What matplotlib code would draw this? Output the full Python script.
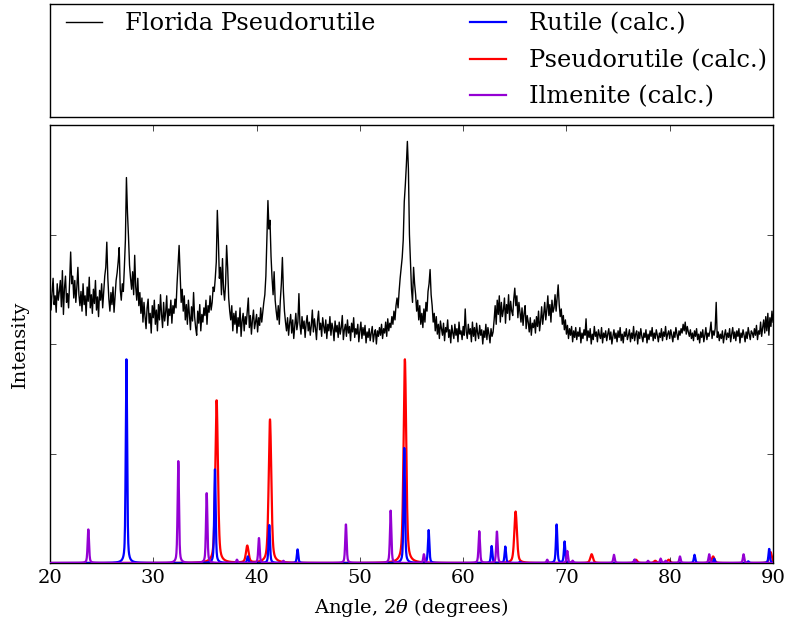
import numpy as np
import matplotlib
matplotlib.use("Agg")
import matplotlib.pyplot as plt
from matplotlib.lines import Line2D

plt.style.use("classic")
plt.rcParams["font.family"] = ["DejaVu Serif"]
plt.rcParams["mathtext.fontset"] = "dejavuserif"

# ---------------- data ----------------
# measured pattern, one value every 0.1 degree from 20.0 to 90.0 (one row per degree)
exp_start, exp_step = 20.0, 0.1
exp_intensity = [
    2.52, 2.31, 2.47, 2.60, 2.36, 2.44, 2.29, 2.55, 2.40, 2.48,
    2.58, 2.34, 2.67, 2.27, 2.51, 2.62, 2.38, 2.46, 2.33, 2.57,
    2.84, 2.55, 2.62, 2.42, 2.58, 2.38, 2.52, 2.70, 2.45, 2.35,
    2.48, 2.30, 2.55, 2.36, 2.44, 2.26, 2.52, 2.39, 2.61, 2.33,
    2.45, 2.28, 2.50, 2.37, 2.58, 2.31, 2.43, 2.25, 2.49, 2.40,
    2.55, 2.33, 2.48, 2.62, 2.70, 2.93, 2.60, 2.41, 2.30, 2.47,
    2.36, 2.52, 2.29, 2.43, 2.58, 2.65, 2.75, 2.88, 2.50, 2.40,
    2.55, 2.48, 2.70, 2.95, 3.52, 3.20, 2.98, 2.72, 2.60, 2.50,
    2.66, 2.45, 2.81, 2.52, 2.40, 2.60, 2.35, 2.47, 2.28, 2.42,
    2.20, 2.38, 2.25, 2.14, 2.33, 2.41, 2.19, 2.28, 2.10, 2.35,
    2.24, 2.40, 2.18, 2.31, 2.12, 2.36, 2.22, 2.45, 2.27, 2.15,
    2.38, 2.21, 2.29, 2.44, 2.17, 2.32, 2.26, 2.40, 2.19, 2.35,
    2.28, 2.41, 2.33, 2.55, 2.72, 2.90, 2.65, 2.38, 2.50, 2.30,
    2.44, 2.22, 2.36, 2.18, 2.40, 2.27, 2.13, 2.34, 2.21, 2.47,
    2.25, 2.15, 2.08, 2.30, 2.19, 2.36, 2.12, 2.27, 2.20, 2.33,
    2.26, 2.40, 2.18, 2.35, 2.29, 2.44, 2.31, 2.38, 2.52, 2.48,
    2.60, 2.75, 3.22, 2.95, 2.60, 2.70, 2.45, 2.78, 2.50, 2.40,
    2.55, 2.90, 2.70, 2.42, 2.30, 2.22, 2.35, 2.12, 2.28, 2.18,
    2.30, 2.10, 2.24, 2.16, 2.33, 2.07, 2.21, 2.28, 2.12, 2.25,
    2.18, 2.30, 2.42, 2.15, 2.26, 2.09, 2.22, 2.31, 2.14, 2.20,
    2.27, 2.11, 2.24, 2.17, 2.33, 2.20, 2.29, 2.38, 2.45, 2.62,
    2.95, 3.31, 3.05, 3.13, 2.80, 2.60, 2.45, 2.66, 2.40, 2.30,
    2.22, 2.35, 2.18, 2.40, 2.55, 2.79, 2.48, 2.30, 2.20, 2.12,
    2.24, 2.08, 2.19, 2.27, 2.10, 2.22, 2.05, 2.17, 2.28, 2.13,
    2.20, 2.46, 2.18, 2.09, 2.25, 2.14, 2.21, 2.06, 2.19, 2.26,
    2.12, 2.20, 2.08, 2.17, 2.31, 2.11, 2.23, 2.15, 2.04, 2.21,
    2.30, 2.13, 2.19, 2.07, 2.24, 2.16, 2.10, 2.22, 2.05, 2.18,
    2.12, 2.25, 2.08, 2.19, 2.14, 2.03, 2.21, 2.11, 2.17, 2.06,
    2.20, 2.09, 2.15, 2.26, 2.04, 2.13, 2.18, 2.07, 2.22, 2.10,
    2.16, 2.03, 2.19, 2.11, 2.24, 2.06, 2.14, 2.09, 2.18, 2.02,
    2.12, 2.20, 2.05, 2.15, 2.08, 2.17, 2.01, 2.11, 2.06, 2.14,
    2.03, 2.10, 2.16, 2.02, 2.09, 2.13, 2.00, 2.12, 2.07, 2.15,
    2.08, 2.18, 2.05, 2.14, 2.10, 2.20, 2.07, 2.23, 2.12, 2.19,
    2.15, 2.25, 2.18, 2.30, 2.22, 2.35, 2.42, 2.33, 2.48, 2.60,
    2.70, 2.79, 2.95, 3.30, 3.45, 3.63, 3.85, 3.60, 3.00, 2.75,
    2.50, 2.38, 2.70, 2.55, 2.45, 2.30, 2.40, 2.22, 2.35, 2.18,
    2.28, 2.15, 2.32, 2.20, 2.38, 2.30, 2.48, 2.55, 2.68, 2.45,
    2.35, 2.20, 2.28, 2.12, 2.25, 2.09, 2.18, 2.05, 2.21, 2.14,
    2.08, 2.19, 2.03, 2.15, 2.11, 2.22, 2.06, 2.13, 2.01, 2.17,
    2.10, 2.05, 2.18, 2.08, 2.14, 2.02, 2.20, 2.09, 2.12, 2.04,
    2.16, 2.08, 2.32, 2.11, 2.05, 2.18, 2.09, 2.14, 2.02, 2.20,
    2.07, 2.15, 2.03, 2.19, 2.10, 2.05, 2.17, 2.08, 2.13, 2.00,
    2.12, 2.06, 2.18, 2.04, 2.15, 2.09, 2.01, 2.14, 2.07, 2.11,
    2.22, 2.35, 2.18, 2.40, 2.27, 2.44, 2.20, 2.38, 2.25, 2.31,
    2.42, 2.19, 2.36, 2.28, 2.45, 2.22, 2.39, 2.30, 2.26, 2.41,
    2.51, 2.35, 2.44, 2.24, 2.38, 2.29, 2.20, 2.33, 2.17, 2.28,
    2.35, 2.14, 2.26, 2.20, 2.11, 2.24, 2.08, 2.19, 2.15, 2.22,
    2.10, 2.25, 2.16, 2.30, 2.12, 2.21, 2.34, 2.18, 2.27, 2.38,
    2.22, 2.31, 2.44, 2.26, 2.36, 2.20, 2.40, 2.29, 2.33, 2.45,
    2.30, 2.42, 2.54, 2.36, 2.25, 2.32, 2.18, 2.26, 2.13, 2.22,
    2.09, 2.17, 2.05, 2.14, 2.08, 2.16, 2.02, 2.12, 2.06, 2.15,
    2.04, 2.11, 2.07, 2.15, 2.01, 2.10, 2.05, 2.13, 2.08, 2.23,
    2.03, 2.12, 2.06, 2.14, 2.00, 2.09, 2.04, 2.16, 2.07, 2.11,
    2.02, 2.13, 2.08, 2.05, 2.15, 2.01, 2.10, 2.06, 2.12, 2.03,
    2.09, 2.14, 2.04, 2.11, 2.00, 2.07, 2.13, 2.05, 2.10, 2.02,
    2.12, 2.06, 2.15, 2.03, 2.09, 2.01, 2.11, 2.07, 2.14, 2.04,
    2.08, 2.13, 2.02, 2.10, 2.05, 2.16, 2.03, 2.09, 2.12, 2.00,
    2.11, 2.05, 2.14, 2.07, 2.02, 2.10, 2.06, 2.13, 2.01, 2.09,
    2.04, 2.12, 2.07, 2.15, 2.03, 2.10, 2.05, 2.13, 2.08, 2.02,
    2.10, 2.06, 2.14, 2.03, 2.11, 2.07, 2.16, 2.04, 2.09, 2.12,
    2.05, 2.13, 2.08, 2.02, 2.11, 2.06, 2.15, 2.09, 2.04, 2.12,
    2.08, 2.14, 2.10, 2.18, 2.12, 2.20, 2.09, 2.16, 2.11, 2.07,
    2.13, 2.05, 2.10, 2.03, 2.12, 2.07, 2.14, 2.04, 2.09, 2.01,
    2.11, 2.06, 2.13, 2.02, 2.08, 2.15, 2.04, 2.10, 2.07, 2.12,
    2.20, 2.05, 2.12, 2.08, 2.14, 2.38, 2.06, 2.11, 2.03, 2.09,
    2.05, 2.12, 2.01, 2.08, 2.13, 2.04, 2.10, 2.06, 2.14, 2.02,
    2.09, 2.15, 2.05, 2.11, 2.03, 2.12, 2.07, 2.14, 2.01, 2.10,
    2.06, 2.13, 2.08, 2.02, 2.11, 2.05, 2.15, 2.09, 2.04, 2.12,
    2.10, 2.06, 2.14, 2.08, 2.17, 2.04, 2.12, 2.09, 2.20, 2.07,
    2.15, 2.22, 2.10, 2.25, 2.12, 2.28, 2.08, 2.24, 2.16, 2.30,
    2.20,
]

rutile_pos = [27.40, 35.97, 39.15, 41.23, 43.97, 54.30, 56.66, 62.76, 64.08,
              65.50, 69.05, 69.82, 76.60, 82.40, 84.30, 87.60, 89.63]
rutile_int = [1.86, 0.865, 0.06, 0.35, 0.125, 1.05, 0.30, 0.155, 0.15,
              0.01, 0.355, 0.195, 0.03, 0.075, 0.04, 0.015, 0.13]

pseudo_pos = [36.13, 39.10, 41.30, 54.36, 65.08, 72.44, 76.73, 78.60, 79.90, 84.20, 89.76]
pseudo_int = [1.49, 0.155, 1.31, 1.86, 0.47, 0.08, 0.03, 0.02, 0.03, 0.06, 0.10]

ilmenite_pos = [23.71, 32.42, 35.17, 38.10, 40.23, 42.60, 48.65, 52.98, 56.20,
                61.56, 63.27, 68.14, 70.08, 70.60, 74.60, 76.60, 77.90, 79.12,
                79.60, 80.99, 83.82, 87.15]
ilmenite_int = [0.31, 0.93, 0.645, 0.03, 0.23, 0.02, 0.356, 0.478, 0.08,
                0.29, 0.29, 0.03, 0.11, 0.02, 0.075, 0.03, 0.02, 0.04,
                0.02, 0.06, 0.08, 0.08]

legend_labels = ["Florida Pseudorutile", "Rutile (calc.)", "Pseudorutile (calc.)", "Ilmenite (calc.)"]
x_ticks = [20, 30, 40, 50, 60, 70, 80, 90]


def profile(x, positions, heights, fwhm, eta=0.5):
    y = np.zeros_like(x)
    for p, h in zip(positions, heights):
        d2 = 4.0 * (x - p) ** 2 / fwhm ** 2
        y += h * (eta / (1.0 + d2) + (1 - eta) * np.exp(-np.log(2) * d2))
    return y


x_exp = exp_start + exp_step * np.arange(len(exp_intensity))
x_grid = np.linspace(20, 90, 3501)

W, H = 786, 623
fig = plt.figure(figsize=(W / 100, H / 100), dpi=100, facecolor="white")

ax = fig.add_axes([50 / W, 1 - 563 / H, 723 / W, (563 - 125) / H])
ax.plot(x_exp, exp_intensity, color="black", lw=1.0, zorder=3)
ax.plot(x_grid, profile(x_grid, pseudo_pos, pseudo_int, 0.30), color="red", lw=1.6, zorder=2)
ax.plot(x_grid, profile(x_grid, rutile_pos, rutile_int, 0.16), color="blue", lw=1.6, zorder=2.5)
ax.plot(x_grid, profile(x_grid, ilmenite_pos, ilmenite_int, 0.16), color="darkviolet", lw=1.6, zorder=2.6)
ax.set_xlim(20, 90)
ax.set_ylim(0, 4)
ax.set_xticks(x_ticks)
ax.set_yticks([0, 1, 2, 3, 4])
ax.set_yticklabels([])
ax.tick_params(axis="x", labelsize=14)
ax.set_xlabel(r"Angle, $2\theta$ (degrees)", fontsize=14, labelpad=7)
ax.set_ylabel("Intensity", fontsize=14, labelpad=11)

lax = fig.add_axes([50 / W, 1 - 117 / H, 723 / W, (117 - 4) / H])
lax.set_xticks([])
lax.set_yticks([])
blank = Line2D([], [], color="none")
handles = [Line2D([], [], color="black", lw=1.0), blank, blank,
           Line2D([], [], color="blue", lw=1.6),
           Line2D([], [], color="red", lw=1.6),
           Line2D([], [], color="darkviolet", lw=1.6)]
labels = [legend_labels[0], "", "", legend_labels[1], legend_labels[2], legend_labels[3]]
lax.legend(handles, labels, ncol=2, loc="upper left", frameon=False,
           fontsize=17.4, handlelength=2.1, handletextpad=0.66,
           columnspacing=3.6, labelspacing=0.56, borderaxespad=-0.05)

fig.savefig("out.png", dpi=100, facecolor="white")
